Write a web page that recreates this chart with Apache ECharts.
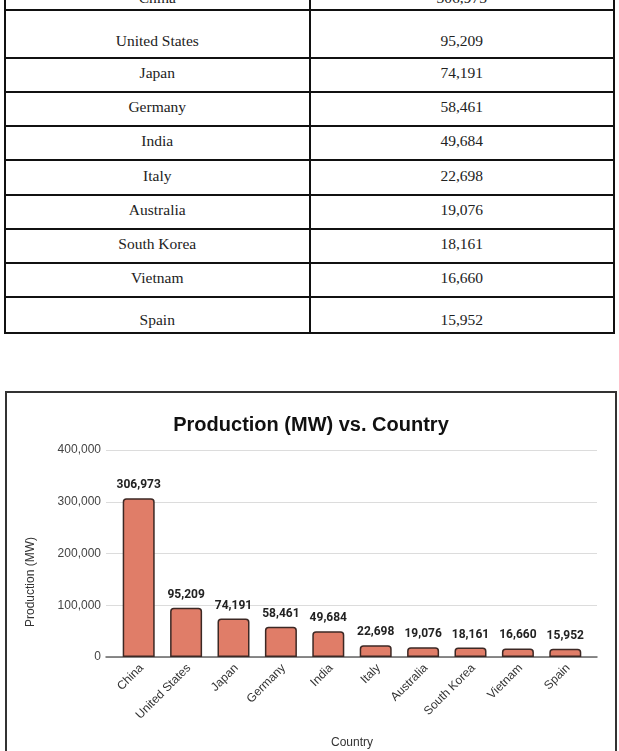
<!DOCTYPE html>
<html>
<head>
<meta charset="utf-8">
<script src="https://cdn.jsdelivr.net/npm/echarts@6/dist/echarts.min.js"></script>
<style>
  html, body { margin: 0; padding: 0; background: #fff; overflow: hidden; }
  body { width: 619px; height: 751px; position: relative; }
  #tbl { position: absolute; left: 4px; top: -25px; width: 611px; border-collapse: collapse;
         font-family: "Liberation Serif", "DejaVu Serif", serif; font-size: 15.5px; color: #222; }
  #tbl td { border: 2px solid #111; text-align: center; vertical-align: bottom; padding: 0; width: 50%; }
  #box { position: absolute; left: 5px; top: 391px; width: 608px; height: 380px; border: 2px solid #333; }
  #mainEcharts { width: 608px; height: 380px; }
</style>
</head>
<body>
<table id="tbl"></table>
<div id="box"><div id="mainEcharts"></div></div>
<script>
var countries = ['China', 'United States', 'Japan', 'Germany', 'India', 'Italy', 'Australia', 'South Korea', 'Vietnam', 'Spain'];
var production = [306973, 95209, 74191, 58461, 49684, 22698, 19076, 18161, 16660, 15952];
var yTicks = [0, 100000, 200000, 300000, 400000];

// table rows (layout only)
var rowHeights = [34, 48, 34, 34, 34, 35, 34, 34, 34, 36];
var rowPads = [2, 7, 9, 9, 9, 9, 9, 9, 9, 3];

var tbl = document.getElementById('tbl');
countries.forEach(function (c, i) {
    var tr = document.createElement('tr');
    tr.style.height = rowHeights[i] + 'px';
    [c, production[i].toLocaleString('en-US')].forEach(function (t) {
        var td = document.createElement('td');
        td.textContent = t;
        td.style.paddingBottom = rowPads[i] + 'px';
        tr.appendChild(td);
    });
    tbl.appendChild(tr);
});

var fmt = function (v) { return v.toLocaleString('en-US'); };
var myChart = echarts.init(document.getElementById('mainEcharts'));

option = {
    animation: false,
    title: {
        text: 'Production (MW) vs. Country',
        left: 'center',
        top: 17,
        textStyle: { fontFamily: 'Liberation Sans, Arial', fontSize: 20, fontWeight: 'bold', color: '#111' }
    },
    grid: [
        { left: 99, right: 18, top: 57, height: 207 },  // wide: gridlines + axis line
        { left: 108, right: 26, top: 57, height: 207 }  // bars
    ],
    xAxis: [{
        gridIndex: 0,
        type: 'value',
        min: 0, max: 1,
        axisLine: { show: true, lineStyle: { color: '#666', width: 1.5 } },
        axisTick: { show: false },
        axisLabel: { show: false },
        splitLine: { show: false }
    }, {
        gridIndex: 1,
        type: 'category',
        data: countries,
        name: 'Country',
        nameLocation: 'middle',
        nameGap: 80,
        nameTextStyle: { fontFamily: 'Liberation Sans, Arial', fontSize: 12, color: '#333' },
        axisLine: { show: false },
        axisTick: { show: false },
        axisLabel: {
            rotate: 45,
            interval: 0,
            margin: 12,
            padding: [0, -4, 0, 0],
            fontFamily: 'Liberation Sans, Arial',
            fontSize: 12,
            color: '#333'
        }
    }],
    yAxis: [{
        gridIndex: 0,
        type: 'value',
        min: yTicks[0],
        max: yTicks[yTicks.length - 1],
        interval: yTicks[1] - yTicks[0],
        axisLine: { show: false },
        axisTick: { show: false },
        axisLabel: {
            margin: 5,
            formatter: fmt,
            fontFamily: 'Liberation Sans, Arial',
            fontSize: 12,
            color: '#444'
        },
        splitLine: { lineStyle: { color: '#dcdcdc', width: 1 } }
    }, {
        gridIndex: 1,
        type: 'value',
        min: yTicks[0],
        max: yTicks[yTicks.length - 1],
        show: false
    }],
    graphic: [{
        type: 'text',
        left: 18,
        top: 144,
        rotation: Math.PI / 2,
        style: {
            text: 'Production (MW)',
            fontFamily: 'Liberation Sans, Arial',
            fontSize: 12,
            fill: '#333',
            align: 'center',
            verticalAlign: 'middle'
        }
    }],
    series: [{
        type: 'bar',
        xAxisIndex: 1,
        yAxisIndex: 1,
        data: production,
        barWidth: 32,
        itemStyle: {
            color: '#e07d68',
            borderColor: '#3c2824',
            borderWidth: 1.5,
            borderRadius: [3, 3, 0, 0]
        },
        label: {
            show: true,
            position: 'top',
            distance: 7,
            formatter: function (p) { return fmt(p.value); },
            fontFamily: 'Roboto, Liberation Sans, Arial',
            fontSize: 12,
            fontWeight: 'bold',
            color: '#222'
        }
    }]
};

myChart.setOption(option);
</script>
</body>
</html>
